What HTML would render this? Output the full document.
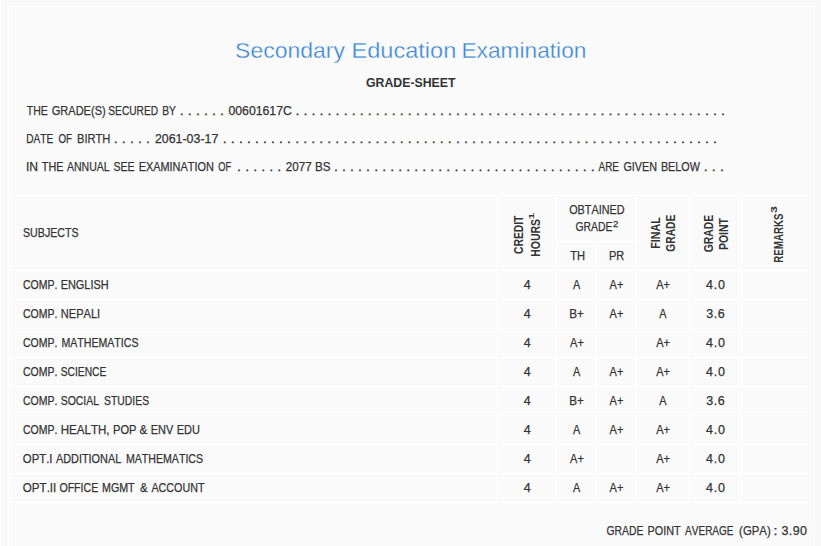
<!DOCTYPE html>
<html lang="en"><head><meta charset="utf-8"><title>Grade-Sheet</title>
<style>
html,body{margin:0;padding:0;overflow:hidden}
body{width:821px;height:546px;overflow:hidden;position:relative;background:#f9f9f9;font-family:"Liberation Sans",sans-serif;color:#333333}
#sheet{position:absolute;left:9px;top:7px;width:805px;height:539px;background:#fafafa}
.t{position:absolute;left:0;top:0;line-height:1;white-space:pre;transform-origin:0 0;font-kerning:none;display:block;-webkit-text-stroke:0.25px #333333}
.h{-webkit-text-stroke:0.3px #fafafa}
.d{-webkit-text-stroke:0.45px #333333}
.bd{-webkit-text-stroke:0 #333333}
.ln{position:absolute;display:block;background:#fff}
</style></head><body>
<div id="sheet"></div>
<i class="ln" style="left:8px;top:6px;width:808px;height:1px"></i>
<i class="ln" style="left:8px;top:6px;width:1px;height:540px"></i>
<i class="ln" style="left:814px;top:6px;width:1px;height:540px"></i>
<i class="ln" style="left:0px;top:0px;width:1px;height:546px"></i>
<i class="ln" style="left:9px;top:195px;width:799px;height:1px"></i>
<i class="ln" style="left:9px;top:270px;width:799px;height:1px"></i>
<i class="ln" style="left:9px;top:299px;width:799px;height:1px"></i>
<i class="ln" style="left:9px;top:328px;width:799px;height:1px"></i>
<i class="ln" style="left:9px;top:357px;width:799px;height:1px"></i>
<i class="ln" style="left:9px;top:386px;width:799px;height:1px"></i>
<i class="ln" style="left:9px;top:415px;width:799px;height:1px"></i>
<i class="ln" style="left:9px;top:444px;width:799px;height:1px"></i>
<i class="ln" style="left:9px;top:473px;width:799px;height:1px"></i>
<i class="ln" style="left:9px;top:502px;width:799px;height:1px"></i>
<i class="ln" style="left:497px;top:196px;width:1px;height:307px"></i>
<i class="ln" style="left:556px;top:196px;width:1px;height:307px"></i>
<i class="ln" style="left:636px;top:196px;width:1px;height:307px"></i>
<i class="ln" style="left:689px;top:196px;width:1px;height:307px"></i>
<i class="ln" style="left:741px;top:196px;width:1px;height:307px"></i>
<i class="ln" style="left:596px;top:241px;width:1px;height:262px"></i>
<i class="ln" style="left:556px;top:241px;width:81px;height:1px"></i>
<span class="t h" style="font-size:21.2px;transform:translate(236.10px,57.30px) scaleX(1.0842) translate(-0.963px,-17.70px);color:#3a86d2;">Secondary</span>
<span class="t h" style="font-size:21.2px;transform:translate(353.40px,57.30px) scaleX(1.1121) translate(-1.739px,-17.70px);color:#3a86d2;">Education</span>
<span class="t h" style="font-size:21.2px;transform:translate(463.30px,57.30px) scaleX(1.0718) translate(-1.739px,-17.70px);color:#3a86d2;">Examination</span>
<span class="t bd" style="font-size:13.6px;transform:translate(366.40px,86.70px) scaleX(0.9066) translate(-0.558px,-10.90px);font-weight:bold;">GRADE-SHEET</span>
<span class="t" style="font-size:12.5px;transform:translate(27.10px,114.60px) scaleX(0.8395) translate(-0.281px,-9.85px);">THE</span>
<span class="t" style="font-size:12.5px;transform:translate(52.30px,114.60px) scaleX(0.8826) translate(-0.629px,-9.85px);">GRADE(S)</span>
<span class="t" style="font-size:12.5px;transform:translate(108.80px,114.60px) scaleX(0.8139) translate(-0.568px,-9.85px);">SECURED</span>
<span class="t" style="font-size:12.5px;transform:translate(163.00px,114.60px) scaleX(0.8195) translate(-1.025px,-9.85px);">BY</span>
<span class="t d" style="font-size:12.5px;word-spacing:1.094px;transform:translate(180.06px,114.60px) translate(0px,-9.85px);">. . . . . .</span>
<span class="t" style="font-size:12.5px;transform:translate(228.90px,114.60px) scaleX(0.9815) translate(-0.488px,-9.85px);">00601617C</span>
<span class="t d" style="font-size:12.5px;word-spacing:1.082px;transform:translate(295.71px,114.60px) translate(0px,-9.85px);">. . . . . . . . . . . . . . . . . . . . . . . . . . . . . . . . . . . . . . . . . . . . . . . . . . . . . .</span>
<span class="t" style="font-size:12.5px;transform:translate(27.00px,142.60px) scaleX(0.8120) translate(-1.025px,-9.85px);">DATE</span>
<span class="t" style="font-size:12.5px;transform:translate(58.90px,142.60px) scaleX(0.7808) translate(-0.592px,-9.85px);">OF</span>
<span class="t" style="font-size:12.5px;transform:translate(77.90px,142.60px) scaleX(0.8913) translate(-1.025px,-9.85px);">BIRTH</span>
<span class="t d" style="font-size:12.5px;word-spacing:1.104px;transform:translate(114.06px,142.60px) translate(0px,-9.85px);">. . . . .</span>
<span class="t" style="font-size:12.5px;transform:translate(155.50px,142.60px) scaleX(0.9923) translate(-0.629px,-9.85px);">2061-03-17</span>
<span class="t d" style="font-size:12.5px;word-spacing:1.092px;transform:translate(223.06px,142.60px) translate(0px,-9.85px);">. . . . . . . . . . . . . . . . . . . . . . . . . . . . . . . . . . . . . . . . . . . . . . . . . . . . . . . . . . . . . .</span>
<span class="t" style="font-size:12.5px;transform:translate(27.00px,170.60px) scaleX(0.9683) translate(-1.154px,-9.85px);">IN</span>
<span class="t" style="font-size:12.5px;transform:translate(42.10px,170.60px) scaleX(0.8684) translate(-0.281px,-9.85px);">THE</span>
<span class="t" style="font-size:12.5px;transform:translate(66.90px,170.60px) scaleX(0.8435) translate(-0.024px,-9.85px);">ANNUAL</span>
<span class="t" style="font-size:12.5px;transform:translate(114.00px,170.60px) scaleX(0.8449) translate(-0.568px,-9.85px);">SEE</span>
<span class="t" style="font-size:12.5px;transform:translate(139.60px,170.60px) scaleX(0.8718) translate(-1.025px,-9.85px);">EXAMINATION</span>
<span class="t" style="font-size:12.5px;transform:translate(218.80px,170.60px) scaleX(0.7439) translate(-0.592px,-9.85px);">OF</span>
<span class="t d" style="font-size:12.5px;word-spacing:1.094px;transform:translate(237.36px,170.60px) translate(0px,-9.85px);">. . . . . .</span>
<span class="t" style="font-size:12.5px;transform:translate(286.40px,170.60px) scaleX(0.9304) translate(-0.629px,-9.85px);">2077 BS</span>
<span class="t d" style="font-size:12.5px;word-spacing:1.079px;transform:translate(334.26px,170.60px) translate(0px,-9.85px);">. . . . . . . . . . . . . . . . . . . . . . . . . . . . . . . . .</span>
<span class="t" style="font-size:12.5px;transform:translate(598.60px,170.60px) scaleX(0.7916) translate(-0.024px,-9.85px);">ARE</span>
<span class="t" style="font-size:12.5px;transform:translate(624.00px,170.60px) scaleX(0.8644) translate(-0.629px,-9.85px);">GIVEN</span>
<span class="t" style="font-size:12.5px;transform:translate(661.80px,170.60px) scaleX(0.8621) translate(-1.025px,-9.85px);">BELOW</span>
<span class="t d" style="font-size:12.5px;word-spacing:1.104px;transform:translate(704.06px,170.60px) translate(0px,-9.85px);">. . .</span>
<span class="t" style="font-size:12.5px;transform:translate(23.50px,236.80px) scaleX(0.8512) translate(-0.568px,-9.85px);">SUBJECTS</span>
<span class="t" style="font-size:12.5px;transform:translate(569.70px,214.00px) scaleX(0.8659) translate(-0.592px,-9.85px);">OBTAINED</span>
<span class="t" style="font-size:12.5px;transform:translate(576.00px,231.30px) scaleX(0.8317) translate(-0.629px,-9.85px);">GRADE</span>
<span class="t" style="font-size:9px;transform:translate(613.40px,227.30px) scaleX(1.0731) translate(-0.453px,-7.10px);">2</span>
<span class="t" style="font-size:12.5px;transform:translate(570.40px,259.70px) scaleX(0.8918) translate(-0.281px,-9.85px);">TH</span>
<span class="t" style="font-size:12.5px;transform:translate(609.80px,259.70px) scaleX(0.8820) translate(-1.025px,-9.85px);">PR</span>
<span class="t bd" style="font-size:12.5px;transform:translate(522.80px,253.50px) rotate(-90deg) scaleX(0.8239) translate(-0.513px,-9.85px);font-weight:bold;">CREDIT</span>
<span class="t bd" style="font-size:12.5px;transform:translate(540.00px,256.00px) rotate(-90deg) scaleX(0.8353) translate(-0.836px,-9.85px);font-weight:bold;">HOURS</span>
<span class="t bd" style="font-size:8px;transform:translate(533.80px,218.40px) rotate(-90deg) scaleX(1.4506) translate(-0.504px,-6.10px);font-weight:bold;">1</span>
<span class="t bd" style="font-size:12.5px;transform:translate(660.00px,248.00px) rotate(-90deg) scaleX(0.8545) translate(-0.836px,-9.85px);font-weight:bold;">FINAL</span>
<span class="t bd" style="font-size:12.5px;transform:translate(674.50px,251.30px) rotate(-90deg) scaleX(0.8201) translate(-0.513px,-9.85px);font-weight:bold;">GRADE</span>
<span class="t bd" style="font-size:12.5px;transform:translate(713.10px,251.80px) rotate(-90deg) scaleX(0.8246) translate(-0.513px,-9.85px);font-weight:bold;">GRADE</span>
<span class="t bd" style="font-size:12.5px;transform:translate(727.50px,249.40px) rotate(-90deg) scaleX(0.8408) translate(-0.836px,-9.85px);font-weight:bold;">POINT</span>
<span class="t bd" style="font-size:12.5px;transform:translate(782.80px,262.00px) rotate(-90deg) scaleX(0.7758) translate(-0.836px,-9.85px);font-weight:bold;">REMARKS</span>
<span class="t bd" style="font-size:8.5px;transform:translate(777.30px,212.70px) rotate(-90deg) scaleX(1.4438) translate(-0.195px,-6.85px);font-weight:bold;">3</span>
<span class="t" style="font-size:12.5px;transform:translate(23.50px,288.60px) scaleX(0.8419) translate(-0.635px,-9.85px);">COMP.</span>
<span class="t" style="font-size:12.5px;transform:translate(61.60px,288.60px) scaleX(0.8726) translate(-1.025px,-9.85px);">ENGLISH</span>
<span class="t" style="font-size:12.5px;transform:translate(524.10px,288.60px) scaleX(1.0002) translate(-0.287px,-9.85px);">4</span>
<span class="t" style="font-size:12.5px;transform:translate(573.10px,288.60px) scaleX(0.8687) translate(-0.024px,-9.85px);">A</span>
<span class="t" style="font-size:12.5px;transform:translate(609.60px,288.60px) scaleX(0.8802) translate(-0.024px,-9.85px);">A+</span>
<span class="t" style="font-size:12.5px;transform:translate(656.20px,288.60px) scaleX(0.8802) translate(-0.024px,-9.85px);">A+</span>
<span class="t" style="font-size:12.5px;transform:translate(706.30px,288.60px) scaleX(1.0000) translate(-0.287px,-9.85px);letter-spacing:0.799px;">4.0</span>
<span class="t" style="font-size:12.5px;transform:translate(23.50px,317.60px) scaleX(0.8419) translate(-0.635px,-9.85px);">COMP.</span>
<span class="t" style="font-size:12.5px;transform:translate(61.70px,317.60px) scaleX(0.8845) translate(-1.025px,-9.85px);">NEPALI</span>
<span class="t" style="font-size:12.5px;transform:translate(524.10px,317.60px) scaleX(1.0002) translate(-0.287px,-9.85px);">4</span>
<span class="t" style="font-size:12.5px;transform:translate(570.15px,317.60px) scaleX(0.9360) translate(-1.025px,-9.85px);">B+</span>
<span class="t" style="font-size:12.5px;transform:translate(609.60px,317.60px) scaleX(0.8802) translate(-0.024px,-9.85px);">A+</span>
<span class="t" style="font-size:12.5px;transform:translate(659.20px,317.60px) scaleX(0.8687) translate(-0.024px,-9.85px);">A</span>
<span class="t" style="font-size:12.5px;transform:translate(706.65px,317.60px) scaleX(1.0000) translate(-0.476px,-9.85px);letter-spacing:0.574px;">3.6</span>
<span class="t" style="font-size:12.5px;transform:translate(23.50px,346.60px) scaleX(0.8419) translate(-0.635px,-9.85px);">COMP.</span>
<span class="t" style="font-size:12.5px;transform:translate(62.30px,346.60px) scaleX(0.8470) translate(-1.025px,-9.85px);">MATHEMATICS</span>
<span class="t" style="font-size:12.5px;transform:translate(524.10px,346.60px) scaleX(1.0002) translate(-0.287px,-9.85px);">4</span>
<span class="t" style="font-size:12.5px;transform:translate(570.10px,346.60px) scaleX(0.8802) translate(-0.024px,-9.85px);">A+</span>
<span class="t" style="font-size:12.5px;transform:translate(656.20px,346.60px) scaleX(0.8802) translate(-0.024px,-9.85px);">A+</span>
<span class="t" style="font-size:12.5px;transform:translate(706.30px,346.60px) scaleX(1.0000) translate(-0.287px,-9.85px);letter-spacing:0.799px;">4.0</span>
<span class="t" style="font-size:12.5px;transform:translate(23.50px,375.60px) scaleX(0.8419) translate(-0.635px,-9.85px);">COMP.</span>
<span class="t" style="font-size:12.5px;transform:translate(61.20px,375.60px) scaleX(0.8189) translate(-0.568px,-9.85px);">SCIENCE</span>
<span class="t" style="font-size:12.5px;transform:translate(524.10px,375.60px) scaleX(1.0002) translate(-0.287px,-9.85px);">4</span>
<span class="t" style="font-size:12.5px;transform:translate(573.10px,375.60px) scaleX(0.8687) translate(-0.024px,-9.85px);">A</span>
<span class="t" style="font-size:12.5px;transform:translate(609.60px,375.60px) scaleX(0.8802) translate(-0.024px,-9.85px);">A+</span>
<span class="t" style="font-size:12.5px;transform:translate(656.20px,375.60px) scaleX(0.8802) translate(-0.024px,-9.85px);">A+</span>
<span class="t" style="font-size:12.5px;transform:translate(706.30px,375.60px) scaleX(1.0000) translate(-0.287px,-9.85px);letter-spacing:0.799px;">4.0</span>
<span class="t" style="font-size:12.5px;transform:translate(23.50px,404.60px) scaleX(0.8419) translate(-0.635px,-9.85px);">COMP.</span>
<span class="t" style="font-size:12.5px;transform:translate(61.20px,404.60px) scaleX(0.8358) translate(-0.568px,-9.85px);">SOCIAL</span>
<span class="t" style="font-size:12.5px;transform:translate(104.50px,404.60px) scaleX(0.8316) translate(-0.568px,-9.85px);">STUDIES</span>
<span class="t" style="font-size:12.5px;transform:translate(524.10px,404.60px) scaleX(1.0002) translate(-0.287px,-9.85px);">4</span>
<span class="t" style="font-size:12.5px;transform:translate(570.15px,404.60px) scaleX(0.9360) translate(-1.025px,-9.85px);">B+</span>
<span class="t" style="font-size:12.5px;transform:translate(609.60px,404.60px) scaleX(0.8802) translate(-0.024px,-9.85px);">A+</span>
<span class="t" style="font-size:12.5px;transform:translate(659.20px,404.60px) scaleX(0.8687) translate(-0.024px,-9.85px);">A</span>
<span class="t" style="font-size:12.5px;transform:translate(706.65px,404.60px) scaleX(1.0000) translate(-0.476px,-9.85px);letter-spacing:0.574px;">3.6</span>
<span class="t" style="font-size:12.5px;transform:translate(23.50px,433.60px) scaleX(0.8419) translate(-0.635px,-9.85px);">COMP.</span>
<span class="t" style="font-size:12.5px;transform:translate(61.70px,433.60px) scaleX(0.9242) translate(-1.025px,-9.85px);">HEALTH,</span>
<span class="t" style="font-size:12.5px;transform:translate(113.90px,433.60px) scaleX(0.8862) translate(-1.025px,-9.85px);">POP</span>
<span class="t" style="font-size:12.5px;transform:translate(140.00px,433.60px) scaleX(0.9218) translate(-0.439px,-9.85px);">&amp;</span>
<span class="t" style="font-size:12.5px;transform:translate(151.70px,433.60px) scaleX(0.8732) translate(-1.025px,-9.85px);">ENV</span>
<span class="t" style="font-size:12.5px;transform:translate(177.70px,433.60px) scaleX(0.8770) translate(-1.025px,-9.85px);">EDU</span>
<span class="t" style="font-size:12.5px;transform:translate(524.10px,433.60px) scaleX(1.0002) translate(-0.287px,-9.85px);">4</span>
<span class="t" style="font-size:12.5px;transform:translate(573.10px,433.60px) scaleX(0.8687) translate(-0.024px,-9.85px);">A</span>
<span class="t" style="font-size:12.5px;transform:translate(609.60px,433.60px) scaleX(0.8802) translate(-0.024px,-9.85px);">A+</span>
<span class="t" style="font-size:12.5px;transform:translate(656.20px,433.60px) scaleX(0.8802) translate(-0.024px,-9.85px);">A+</span>
<span class="t" style="font-size:12.5px;transform:translate(706.30px,433.60px) scaleX(1.0000) translate(-0.287px,-9.85px);letter-spacing:0.799px;">4.0</span>
<span class="t" style="font-size:12.5px;transform:translate(23.40px,462.60px) scaleX(0.9063) translate(-0.592px,-9.85px);">OPT.I</span>
<span class="t" style="font-size:12.5px;transform:translate(55.90px,462.60px) scaleX(0.8716) translate(-0.024px,-9.85px);">ADDITIONAL</span>
<span class="t" style="font-size:12.5px;transform:translate(126.80px,462.60px) scaleX(0.8481) translate(-1.025px,-9.85px);">MATHEMATICS</span>
<span class="t" style="font-size:12.5px;transform:translate(524.10px,462.60px) scaleX(1.0002) translate(-0.287px,-9.85px);">4</span>
<span class="t" style="font-size:12.5px;transform:translate(570.10px,462.60px) scaleX(0.8802) translate(-0.024px,-9.85px);">A+</span>
<span class="t" style="font-size:12.5px;transform:translate(656.20px,462.60px) scaleX(0.8802) translate(-0.024px,-9.85px);">A+</span>
<span class="t" style="font-size:12.5px;transform:translate(706.30px,462.60px) scaleX(1.0000) translate(-0.287px,-9.85px);letter-spacing:0.799px;">4.0</span>
<span class="t" style="font-size:12.5px;transform:translate(23.40px,491.60px) scaleX(0.9253) translate(-0.592px,-9.85px);">OPT.II</span>
<span class="t" style="font-size:12.5px;transform:translate(59.90px,491.60px) scaleX(0.8478) translate(-0.592px,-9.85px);">OFFICE</span>
<span class="t" style="font-size:12.5px;transform:translate(102.90px,491.60px) scaleX(0.8543) translate(-1.025px,-9.85px);">MGMT</span>
<span class="t" style="font-size:12.5px;transform:translate(140.30px,491.60px) scaleX(0.9088) translate(-0.439px,-9.85px);">&amp;</span>
<span class="t" style="font-size:12.5px;transform:translate(151.50px,491.60px) scaleX(0.8570) translate(-0.024px,-9.85px);">ACCOUNT</span>
<span class="t" style="font-size:12.5px;transform:translate(524.10px,491.60px) scaleX(1.0002) translate(-0.287px,-9.85px);">4</span>
<span class="t" style="font-size:12.5px;transform:translate(573.10px,491.60px) scaleX(0.8687) translate(-0.024px,-9.85px);">A</span>
<span class="t" style="font-size:12.5px;transform:translate(609.60px,491.60px) scaleX(0.8802) translate(-0.024px,-9.85px);">A+</span>
<span class="t" style="font-size:12.5px;transform:translate(656.20px,491.60px) scaleX(0.8802) translate(-0.024px,-9.85px);">A+</span>
<span class="t" style="font-size:12.5px;transform:translate(706.30px,491.60px) scaleX(1.0000) translate(-0.287px,-9.85px);letter-spacing:0.799px;">4.0</span>
<span class="t" style="font-size:12.5px;transform:translate(607.00px,534.90px) scaleX(0.8294) translate(-0.629px,-9.85px);">GRADE</span>
<span class="t" style="font-size:12.5px;transform:translate(648.50px,534.90px) scaleX(0.8649) translate(-1.025px,-9.85px);">POINT</span>
<span class="t" style="font-size:12.5px;transform:translate(685.10px,534.90px) scaleX(0.8017) translate(-0.024px,-9.85px);">AVERAGE</span>
<span class="t" style="font-size:12.5px;transform:translate(739.80px,534.90px) scaleX(0.9104) translate(-0.775px,-9.85px);">(GPA)</span>
<span class="t" style="font-size:12.5px;transform:translate(774.60px,534.90px) scaleX(1.2603) translate(-1.141px,-9.85px);">:</span>
<span class="t" style="font-size:12.5px;transform:translate(782.00px,534.90px) scaleX(1.0000) translate(-0.476px,-9.85px);letter-spacing:0.345px;">3.90</span>
</body></html>
